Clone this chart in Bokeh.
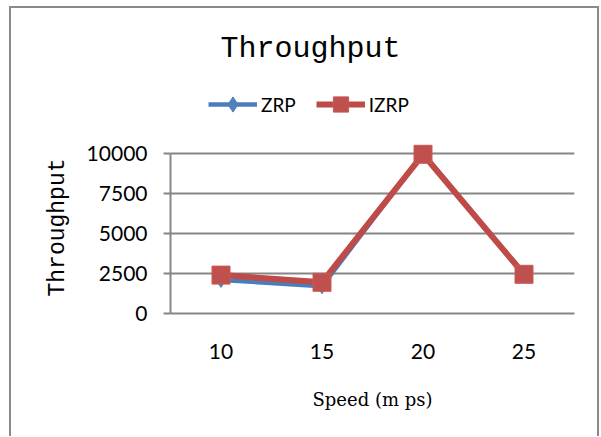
from bokeh.plotting import figure
from bokeh.models import (FactorRange, Range1d, FixedTicker, Label, Legend, LegendItem, Title)
from bokeh.embed import file_html
from bokeh.resources import INLINE

# ---- data ----
speeds = ["10", "15", "20", "25"]
zrp = [2100, 1700, 10000, 2450]
izrp = [2400, 1950, 9950, 2450]
y_ticks = [0, 2500, 5000, 7500, 10000]
title_text = "Throughput"
x_title = "Speed (m ps)"
y_title = "Throughput"
series_names = ["ZRP", "IZRP"]

GRAY = "#868686"
BLUE = "#4A7EBB"
BLUE_M = "#4F81BD"
RED = "#BE4B48"
RED_M = "#C0504D"

# layout geometry (pixels on the page)
FRAME_TOP, GRID_TOP, FRAME_BOTTOM = 8, 153, 313
y_max = y_ticks[-1]
y_top = y_max * (FRAME_BOTTOM - FRAME_TOP) / (FRAME_BOTTOM - GRID_TOP)

p = figure(width=590, height=430, output_backend="svg", toolbar_location=None,
           x_range=FactorRange(*speeds), y_range=Range1d(0, y_top),
           min_border_left=159, min_border_right=27, min_border_top=0,
           min_border_bottom=125, background_fill_color="white",
           border_fill_color="white", title=None)
p.x_range.range_padding = 0
p.styles = {"border-left": "2px solid #8a8a8a", "border-top": "2px solid #8a8a8a",
            "border-right": "2px solid #8a8a8a", "box-sizing": "border-box",
            "margin-left": "9px", "margin-top": "6px"}
p.outline_line_color = None

# grid
p.xgrid.grid_line_color = None
p.ygrid.grid_line_color = GRAY
p.ygrid.grid_line_width = 2
p.yaxis.ticker = FixedTicker(ticks=y_ticks)
p.yaxis.bounds = (0, y_max)

# axes
for ax in (p.xaxis[0], p.yaxis[0]):
    ax.axis_line_color = GRAY
    ax.axis_line_width = 2
    ax.minor_tick_line_color = None
    ax.major_label_text_font = "Lato"
    ax.major_label_text_font_size = "21px"
    ax.major_label_text_color = "black"
    ax.axis_label_text_font_style = "normal"
    ax.axis_label_text_color = "black"

p.xaxis.major_tick_line_color = None
p.xaxis.major_tick_out = 0
p.xaxis.major_tick_in = 0
p.xaxis.major_label_standoff = 30
p.xaxis.axis_label = x_title
p.xaxis.axis_label_text_font = "DejaVu Serif"
p.xaxis.axis_label_text_font_size = "18px"
p.xaxis.axis_label_standoff = 27

p.yaxis.major_tick_line_color = GRAY
p.yaxis.major_tick_line_width = 2
p.yaxis.major_tick_out = 7
p.yaxis.major_tick_in = 0
p.yaxis.major_label_standoff = 16

# vertical axis title as a side-panel title
ytitle = Title(text=y_title, align="left", offset=17, text_font="Liberation Mono",
               text_font_size="23px", text_font_style="normal", text_color="black",
               standoff=26, vertical_align="bottom")
p.add_layout(ytitle, "left")

# series
l1 = p.line(speeds, zrp, line_color=BLUE, line_width=4.5)
s1 = p.scatter(speeds, zrp, marker="diamond", size=15, fill_color=BLUE_M, line_color=BLUE_M)
l2 = p.line(speeds, izrp, line_color=RED, line_width=6)
s2 = p.scatter(speeds, izrp, marker="square", size=18, fill_color=RED_M, line_color="#C85A57")

legend = Legend(items=[LegendItem(label=series_names[0], renderers=[l1, s1]),
                       LegendItem(label=series_names[1], renderers=[l2, s2])],
                orientation="horizontal", location=(38, 190),
                glyph_width=49, glyph_height=38, label_standoff=4, spacing=20,
                padding=0, margin=0, border_line_color=None,
                background_fill_alpha=0, label_text_font="Lato",
                label_text_font_size="19px", label_text_color="black")
p.add_layout(legend, "center")

title = Label(x=140, y=265, x_units="screen", y_units="screen", text=title_text,
              text_font="Liberation Mono", text_font_size="30px",
              text_align="center", text_baseline="middle", text_color="black")
p.add_layout(title)

open("out.html", "w").write(file_html(p, INLINE))
